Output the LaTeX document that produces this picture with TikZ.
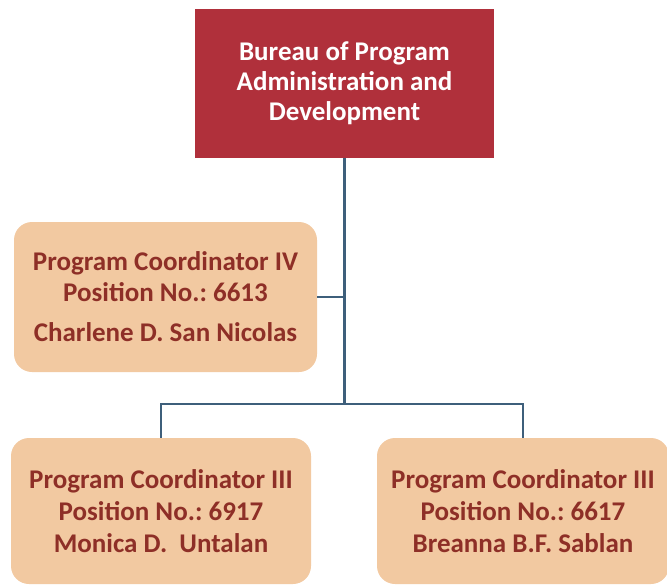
\documentclass[tikz,border=0pt]{standalone}
\usepackage{fontspec}
\setmainfont{Carlito}
\frenchspacing
\definecolor{crim}{HTML}{B0303B}
\definecolor{peach}{HTML}{F2C9A1}
\definecolor{txtred}{HTML}{8E2F27}
\definecolor{lineblue}{HTML}{3E5F7B}
\tikzset{
  topbox/.style={fill=crim, draw=none, text=white, align=center, font=\bfseries\fontsize{27}{30}\selectfont, inner sep=0pt},
  pbox/.style={fill=peach, draw=none, rounded corners=18pt, text=txtred, align=center, font=\bfseries\fontsize{27}{32}\selectfont, inner sep=0pt},
  conn/.style={draw=lineblue, line width=2.4pt}
}
\begin{document}
\begin{tikzpicture}[x=1pt,y=-1pt]
\useasboundingbox (0,0) rectangle (667,584);
\node[topbox, minimum width=299pt, minimum height=149pt] (top) at (344.5,83.5) {Bureau of Program\\Administration and\\Development};
\node[pbox, minimum width=303pt, minimum height=150pt] (pc4) at (165.5,297) {Program Coordinator IV\\[-1pt]Position No.: 6613\\[8pt]Charlene D. San Nicolas};
\node[pbox, minimum width=300pt, minimum height=146pt] (bl) at (161,511) {Program Coordinator III\\Position No.: 6917\\Monica D.\ \ Untalan};
\node[pbox, minimum width=292pt, minimum height=146pt] (br) at (523,511) {Program Coordinator III\\Position No.: 6617\\Breanna B.F. Sablan};
\coordinate (j) at (344.5,404);
\draw[conn] (top.south) -- (j);
\draw[conn] (pc4.east) -- (pc4.east -| j);
\draw[conn] (bl.north) |- (j) -| (br.north);
\end{tikzpicture}
\end{document}
